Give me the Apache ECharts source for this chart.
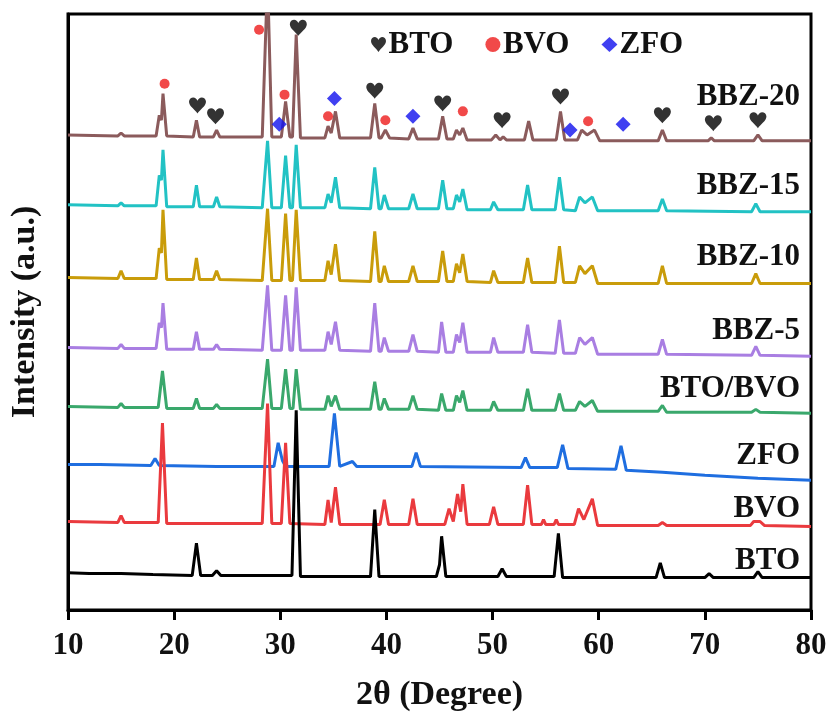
<!DOCTYPE html>
<html>
<head>
<meta charset="utf-8">
<script src="https://cdn.jsdelivr.net/npm/echarts@6/dist/echarts.min.js"></script>
<style>
  html, body { margin: 0; padding: 0; background: #fff; }
  #xrd { width: 831px; height: 717px; }
</style>
</head>
<body>
<div id="xrd"></div>
<script>
// 2θ ticks and sample names
var thetaTicks = [10, 20, 30, 40, 50, 60, 70, 80];
var sampleNames = ['BTO', 'BVO', 'ZFO', 'BTO/BVO', 'BBZ-5', 'BBZ-10', 'BBZ-15', 'BBZ-20'];
var sampleColors = ['#000000', '#ea3a3e', '#1f6ee0', '#3aa86c', '#a97ee2', '#c99c0a', '#22c2c4', '#8b5b5c'];
// vertical shift of each pattern (a.u.)
var offsets = [38, 90, 148, 207, 267, 338, 412, 483];

// [2θ, intensity], relative to each pattern's own baseline
var bto = [[10,0],[12,-1],[15,-1],[18,-2],[21.7,-3],[22.1,30],[22.5,-3],[23.6,-3],[24,2],[24.4,-3],[28,-3],[31.1,-3],[31.5,165],[31.9,-4],[34.5,-4],[38.5,-4],[38.9,64],[39.3,-4],[44.7,-4],[45.0,8],[45.2,37],[45.6,-4],[50.5,-4],[50.9,4],[51.3,-4],[55.8,-4],[56.2,40],[56.6,-5],[65.4,-5],[65.8,10],[66.2,-5],[70.0,-5],[70.4,-1],[70.8,-5],[74.6,-5],[75.0,1],[75.4,-5],[80,-5]];
var bvo = [[10,0],[14.7,-1],[15.0,6],[15.3,-1],[18.5,-1],[18.9,100],[19.3,-2],[28.3,-2],[28.8,120],[29.2,-2],[30.1,-2],[30.5,80],[30.9,-2],[34.2,-3],[34.5,22],[34.8,-1],[35.2,35],[35.6,-3],[39.4,-3],[39.8,22],[40.2,-3],[42.1,-3],[42.5,23],[42.9,-3],[45.5,-3],[45.9,13],[46.3,0],[46.7,28],[47.0,10],[47.2,38],[47.6,-3],[49.7,-3],[50.1,15],[50.5,-3],[52.9,-3],[53.3,37],[53.7,-3],[54.6,-3],[54.8,2],[55.0,-3],[55.8,-3],[56.0,2],[56.2,-3],[57.7,-3],[58.1,13],[58.6,2],[59.4,23],[59.9,-4],[65.6,-4],[66,-1],[66.4,-4],[74.3,-4],[74.6,0],[75.2,0],[75.6,-4],[80,-5]];
var zfo = [[10,0],[13,0],[17.8,-1],[18.2,6],[18.6,-1],[24,-2],[29.4,-2],[29.8,22],[30.2,4],[30.5,-2],[34.6,-2],[35.1,52],[35.6,-2],[36.8,3],[37.2,-2],[42.4,-2],[42.8,12],[43.2,-2],[52.7,-3],[53.1,7],[53.5,-3],[56.1,-3],[56.6,20],[57.1,-4],[61.6,-5],[62.1,19],[62.6,-6],[66,-8],[70,-11],[75,-14],[80,-16]];
var btoBvo = [[10,0],[14.7,-1],[15,3],[15.3,-1],[18.5,-1],[18.9,36],[19.3,-2],[21.8,-2],[22.1,8],[22.4,-2],[23.7,-2],[24,2],[24.3,-2],[28.3,-2],[28.8,48],[29.2,-2],[30.1,-2],[30.5,38],[30.9,-2],[31.2,-2],[31.5,38],[31.9,-3],[34.2,-3],[34.5,11],[34.8,0],[35.2,11],[35.6,-3],[38.5,-3],[38.9,25],[39.3,-3],[39.5,-3],[39.8,8],[40.2,-3],[42.1,-3],[42.5,11],[42.9,-3],[44.9,-4],[45.2,13],[45.6,-4],[46.3,-4],[46.6,11],[46.9,4],[47.2,16],[47.6,-4],[49.8,-4],[50.1,5],[50.5,-4],[52.9,-4],[53.3,18],[53.7,-4],[55.9,-4],[56.3,13],[56.7,-4],[57.8,-4],[58.2,5],[58.7,0],[59.4,6],[59.9,-5],[65.6,-5],[66,1],[66.4,-6],[74.4,-6],[74.8,-3],[75.2,-6],[80,-7]];
var bbz5 = [[10,0],[14.7,-1],[15,3],[15.3,-1],[18.3,-1],[18.6,25],[18.8,20],[18.95,45],[19.3,-2],[21.8,-2],[22.1,16],[22.4,-2],[23.7,-2],[24,3],[24.3,-2],[28.3,-3],[28.8,63],[29.2,-3],[30.1,-3],[30.5,53],[30.9,-3],[31.15,-3],[31.5,61],[31.9,-3],[34.2,-3],[34.5,16],[34.8,3],[35.2,26],[35.6,-3],[38.5,-4],[38.9,45],[39.3,-4],[39.5,-4],[39.8,10],[40.2,-4],[42.1,-4],[42.5,13],[42.9,-4],[44.9,-5],[45.2,26],[45.6,-5],[46.3,-5],[46.6,13],[46.9,5],[47.2,25],[47.6,-5],[49.8,-5],[50.1,10],[50.5,-5],[52.9,-5],[53.3,23],[53.7,-5],[55.9,-6],[56.3,28],[56.7,-6],[57.8,-6],[58.2,10],[58.7,3],[59.4,10],[59.9,-7],[65.6,-7],[66,8],[66.4,-7],[74.4,-8],[74.8,1],[75.2,-8],[80,-9]];
var bbz10 = [[10,0],[14.7,-1],[15,7],[15.3,-1],[18.3,-1],[18.6,30],[18.8,25],[18.95,69],[19.3,-2],[21.8,-2],[22.1,20],[22.4,-2],[23.7,-2],[24,7],[24.3,-2],[28.3,-3],[28.8,70],[29.2,-3],[30.1,-3],[30.5,65],[30.9,-3],[31.15,-3],[31.5,69],[31.9,-3],[34.2,-3],[34.5,17],[34.8,3],[35.2,34],[35.6,-3],[38.5,-4],[38.9,47],[39.3,-4],[39.5,-4],[39.8,12],[40.2,-4],[42.1,-4],[42.5,12],[42.9,-4],[44.9,-4],[45.3,27],[45.7,-4],[46.3,-4],[46.6,14],[46.9,5],[47.2,24],[47.6,-4],[49.8,-5],[50.1,7],[50.5,-5],[52.9,-5],[53.3,20],[53.7,-5],[55.9,-5],[56.3,32],[56.7,-5],[57.8,-5],[58.2,12],[58.7,4],[59.4,12],[59.9,-6],[65.6,-6],[66,12],[66.4,-6],[74.4,-6],[74.8,4],[75.2,-6],[80,-6]];
var bbz15 = [[10,0],[14.7,-1],[15,2],[15.3,-1],[18.3,-1],[18.6,30],[18.8,25],[18.95,56],[19.3,-2],[21.8,-2],[22.1,20],[22.4,-2],[23.7,-2],[24,8],[24.3,-2],[28.3,-3],[28.8,65],[29.2,-3],[30.1,-3],[30.5,50],[30.9,-3],[31.15,-3],[31.5,61],[31.9,-3],[34.2,-3],[34.5,11],[34.8,2],[35.2,28],[35.6,-3],[38.5,-4],[38.9,38],[39.3,-4],[39.5,-4],[39.8,10],[40.2,-4],[42.1,-4],[42.5,11],[42.9,-4],[44.9,-4],[45.3,25],[45.7,-4],[46.3,-4],[46.6,10],[46.9,3],[47.2,16],[47.6,-5],[49.8,-5],[50.1,3],[50.5,-5],[52.9,-5],[53.3,20],[53.7,-5],[55.9,-5],[56.3,28],[56.7,-5],[57.8,-6],[58.2,8],[58.7,2],[59.4,8],[59.9,-6],[65.6,-6],[66,6],[66.4,-6],[74.4,-7],[74.8,1],[75.2,-7],[80,-7]];
var bbz20 = [[10,0],[14.7,-1],[15,2],[15.3,-1],[18.3,-1],[18.6,20],[18.8,15],[18.95,42],[19.3,-1],[21.8,-2],[22.1,15],[22.4,-2],[23.7,-2],[24,5],[24.3,-2],[28.3,-2],[28.8,160],[29.2,-2],[30.1,-2],[30.5,34],[30.9,-2],[31.15,-2],[31.5,102],[31.9,-3],[34.2,-3],[34.5,9],[34.8,2],[35.2,24],[35.6,-3],[38.5,-3],[38.9,32],[39.3,-3],[39.5,-3],[39.9,5],[40.3,-3],[42.1,-4],[42.5,7],[42.9,-4],[44.9,-4],[45.3,19],[45.7,-4],[46.3,-4],[46.6,5],[46.9,0],[47.2,7],[47.6,-5],[49.9,-5],[50.3,0],[50.7,-5],[51.0,-2],[51.3,-5],[53.0,-5],[53.4,14],[53.8,-5],[56.0,-5],[56.4,24],[56.8,-5],[58.0,-5],[58.4,5],[58.9,0],[59.6,5],[60.1,-6],[65.6,-6],[66,5],[66.4,-6],[70.3,-6],[70.6,-3],[70.9,-6],[74.6,-6],[75,0],[75.4,-6],[80,-6]];
var patterns = [bto, bvo, zfo, btoBvo, bbz5, bbz10, bbz15, bbz20];

// phase markers above the BBZ-20 pattern [2θ, y]
var btoMarks = [[31.7,592],[22.2,513],[23.9,502],[38.9,528],[45.3,515],[50.9,498],[56.4,522],[66.0,503],[70.8,495],[75.0,498]];
var bvoMarks = [[28.0,590],[19.1,535],[30.4,524],[34.5,502],[39.9,498],[47.2,507],[59.0,497]];
var zfoMarks = [[29.9,494],[35.1,520],[42.5,502],[57.3,488],[62.3,494]];

var heart = 'path://M12 23 C9 18 1 13 1 7 C1 3 4 1 6.5 1 C9 1 11 3 12 5.5 C13 3 15 1 17.5 1 C20 1 23 3 23 7 C23 13 15 18 12 23 Z';
var serif = '"Liberation Serif", "Times New Roman", serif';

var myChart = echarts.init(document.getElementById('xrd'));

var series = [];
// 先画上面的曲线，下面的曲线盖在上面
for (var i = patterns.length - 1; i >= 0; i--) {
    var off = offsets[i];
    series.push({
        name: sampleNames[i] + ' pattern',
        type: 'line',
        symbol: 'none',
        clip: true,
        itemStyle: { color: sampleColors[i] },
        lineStyle: { color: sampleColors[i], width: 3 },
        data: patterns[i].map(function(p) { return [p[0], p[1] + off]; })
    });
}
series.push({ name: 'BTO', type: 'scatter', symbol: heart, symbolSize: [17, 16], itemStyle: { color: '#000' }, data: btoMarks, z: 5 });
series.push({ name: 'BVO', type: 'scatter', symbol: 'circle', symbolSize: 10, itemStyle: { color: '#ee1c1c' }, data: bvoMarks, z: 5 });
series.push({ name: 'ZFO', type: 'scatter', symbol: 'diamond', symbolSize: 15, itemStyle: { color: '#1010ee' }, data: zfoMarks, z: 5 });

// 样品名称标签
var labelTops = [562, 510, 457, 390, 332, 258, 187, 98];
var graphics = sampleNames.map(function(n, k) {
    return {
        type: 'text',
        right: 31,
        top: labelTops[k] - 17,
        style: { text: n, font: 'bold 31px ' + serif, fill: '#111' }
    };
});

var option = {
    animation: false,
    backgroundColor: '#fff',
    grid: { left: 59, right: 20, top: 14, bottom: 97, show: true, borderColor: '#000', borderWidth: 3 },
    legend: {
        data: [
            { name: 'BTO', icon: heart, itemStyle: { color: '#000' } },
            { name: 'BVO', icon: 'circle', itemStyle: { color: '#ee1c1c' } },
            { name: 'ZFO', icon: 'diamond', itemStyle: { color: '#1010ee' } }
        ],
        left: 366,
        top: 24,
        itemWidth: 16,
        itemHeight: 15,
        itemGap: 32,
        textStyle: { fontFamily: serif, fontWeight: 'bold', fontSize: 31, color: '#111', padding: [0, 0, 0, -3] }
    },
    xAxis: {
        type: 'value',
        min: thetaTicks[0],
        max: thetaTicks[thetaTicks.length - 1],
        interval: 10,
        name: '2θ (Degree)',
        nameLocation: 'middle',
        nameGap: 68,
        nameTextStyle: { fontFamily: serif, fontWeight: 'bold', fontSize: 34, color: '#111' },
        axisLine: { lineStyle: { color: '#000', width: 3 } },
        axisTick: { inside: false, length: 10, lineStyle: { color: '#000', width: 3 } },
        axisLabel: { fontFamily: serif, fontWeight: 'bold', fontSize: 31, color: '#111', margin: 20 },
        splitLine: { show: false }
    },
    yAxis: {
        type: 'value',
        min: 0,
        max: 606,
        name: 'Intensity (a.u.)',
        nameLocation: 'middle',
        nameGap: 26,
        nameTextStyle: { fontFamily: serif, fontWeight: 'bold', fontSize: 34, color: '#111' },
        axisLine: { show: true, lineStyle: { color: '#000', width: 3 } },
        axisTick: { show: false },
        axisLabel: { show: false },
        splitLine: { show: false }
    },
    graphic: graphics,
    series: series
};
myChart.setOption(option);
</script>
</body>
</html>
